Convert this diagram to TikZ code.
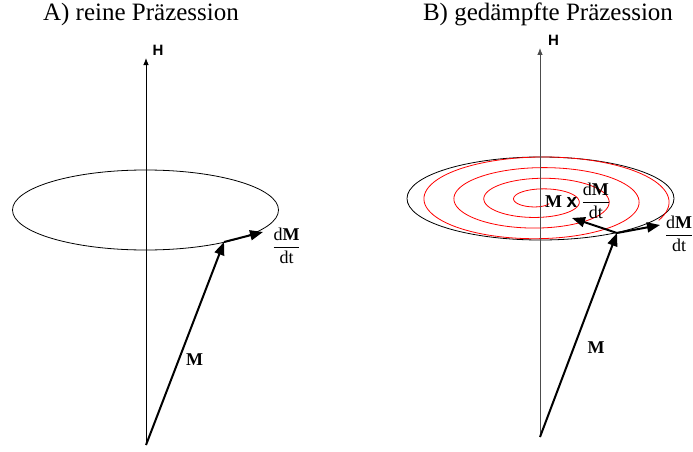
\documentclass[tikz,border=0pt]{standalone}
\usepackage{amsmath}
\usepackage{fontspec}
\setmainfont{Liberation Serif}
\setsansfont{Liberation Sans}
\usetikzlibrary{arrows.meta}

\begin{document}
\begin{tikzpicture}[
  x=1pt, y=1pt,
  axis/.style={-{Latex[length=7pt, width=5.5pt]}, line width=0.8pt},
  vec/.style={-{Triangle[length=13pt, width=10pt]}, line width=2pt},
  orbit/.style={line width=0.8pt},
  spiral/.style={red, line width=0.8pt},
  title/.style={font=\fontsize{25}{28}\selectfont, anchor=base, inner sep=0pt},
  lab/.style={font=\fontsize{18}{20}\selectfont, inner sep=0pt},
  hlab/.style={font=\fontsize{15}{17}\selectfont\sffamily\bfseries, inner sep=0pt}
]
\useasboundingbox (0,0) rectangle (693,451);

% A) reine Praezession
\node[title] (titA) at (141,430) {A) reine Präzession};
\coordinate (Oa) at (146,6);
\coordinate (Ha) at (146,393);
\coordinate (Ma) at (224,209);
\coordinate (dMa) at (263,219);
\draw[orbit] (145.5,241) ellipse [x radius=133, y radius=40];
\draw[axis] (Oa) -- (Ha);
\node[hlab] (labHa) at (158,401) {H};
\draw[vec] (Oa) -- (Ma);
\draw[vec] (Ma) -- (dMa);
\node[lab] (labMa) at (194.5,91) {\textbf{M}};
\node[lab] (labdMa) at (286.5,205) {$\dfrac{\text{d}\textbf{M}}{\text{dt}}$};

% B) gedaempfte Praezession
\node[title] (titB) at (548,430) {B) gedämpfte Präzession};
\coordinate (Ob) at (540,14);
\coordinate (Hb) at (540,403);
\coordinate (Mb) at (617,218);
\coordinate (dMb) at (660,226);
\coordinate (Db) at (572,233);
\draw[orbit] (540.5,252.5) ellipse [x radius=133.5, y radius=41.5];
\draw[spiral] plot[domain=-25:1400, samples=400, smooth, variable=\t]
  ({539+(130-\t/12)*cos(\t)}, {250.5+0.355*(130-\t/12)*sin(\t)});
\draw[axis, black!70] (Ob) -- (Hb);
\node[hlab] (labHb) at (553.5,411) {H};
\draw[vec] (Ob) -- (Mb);
\draw[vec] (Mb) -- (dMb);
\draw[vec] (Mb) -- (Db);
\node[lab] (labMb) at (596,103) {\textbf{M}};
\node[lab] (labDb) at (577.5,250) {\textbf{M} {\fontsize{19}{21}\selectfont\sffamily\bfseries x} $\dfrac{\text{d}\textbf{M}}{\text{dt}}$};
\node[lab] (labdMb) at (679,217) {$\dfrac{\text{d}\textbf{M}}{\text{dt}}$};
\end{tikzpicture}
\end{document}
